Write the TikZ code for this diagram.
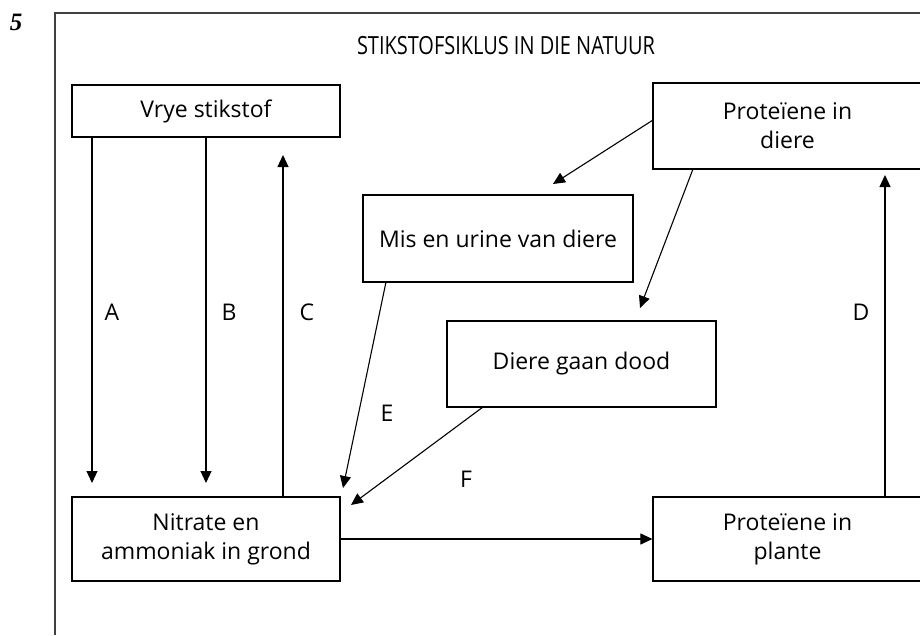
\documentclass[tikz,border=0pt]{standalone}
\usepackage{fontspec}
\setmainfont{Open Sans}
\newfontfamily\numfont{Liberation Serif}
\usetikzlibrary{arrows.meta}
\begin{document}
\begin{tikzpicture}[x=1pt,y=-1pt,
  box/.style={draw, line width=1.2pt, inner sep=0pt, align=center, font=\fontsize{23}{29}\selectfont},
  arr/.style={line width=1.1pt, -{Triangle[length=12pt,width=11pt]}},
  lbl/.style={font=\fontsize{23}{26}\selectfont, inner sep=0pt}]
\useasboundingbox (0,0) rectangle (920,635);
\fill[white] (0,0) rectangle (920,635);
% frame
\draw[line width=1.2pt, black!75] (920,13) -- (55,13) -- (55,635);
\node[inner sep=0pt, font=\numfont\fontsize{25}{26}\selectfont\bfseries\itshape] (num) at (16,22) {5};
\node[inner sep=0pt] (title) at (506,46) {\resizebox{298pt}{\height}{\fontsize{25}{28}\selectfont STIKSTOFSIKLUS IN DIE NATUUR}};
% boxes
\node[box, minimum width=268pt, minimum height=52pt] (vrye) at (206,111) {Vrye stikstof};
\node[box, minimum width=269pt, minimum height=86pt] (pdiere) at (787.5,126) {Proteïene in\\diere};
\node[box, minimum width=270pt, minimum height=87pt] (mis) at (498,238.5) {Mis en urine van diere};
\node[box, minimum width=269pt, minimum height=86pt] (dood) at (581.5,364) {Diere gaan dood};
\node[box, minimum width=268pt, minimum height=84pt] (nitrate) at (206,539) {Nitrate en\\ammoniak in grond};
\node[box, minimum width=269pt, minimum height=84pt] (plante) at (787.5,539) {Proteïene in\\plante};
% arrow end points
\coordinate (Aend) at (92,483);
\coordinate (Bend) at (206,483);
\coordinate (Cend) at (283,155);
\coordinate (Dend) at (885,175);
\coordinate (Mend) at (553,184);
\coordinate (Gend) at (640,308);
\coordinate (Eend) at (343,488);
\coordinate (Hend) at (351,505);
\coordinate (Ms) at (386,282);
\coordinate (Ds) at (483,407);
\coordinate (Pw) at (653,120);
\coordinate (Ps) at (693,169);
% arrows
\draw[arr] (vrye.south -| Aend) -- (Aend);
\draw[arr] (vrye.south -| Bend) -- (Bend);
\draw[arr] (nitrate.north -| Cend) -- (Cend);
\draw[arr] (plante.north -| Dend) -- (Dend);
\draw[arr] (nitrate.east) -- (plante.west);
\draw[arr] (Pw) -- (Mend);
\draw[arr] (Ps) -- (Gend);
\draw[arr] (Ms) -- (Eend);
\draw[arr] (Ds) -- (Hend);
% labels
\node[lbl] (la) at (112,312) {A};
\node[lbl] (lb) at (229,312) {B};
\node[lbl] (lc) at (307,312) {C};
\node[lbl] (ld) at (861,312) {D};
\node[lbl] (le) at (387,413) {E};
\node[lbl] (lf) at (466,479) {F};
\end{tikzpicture}
\end{document}
